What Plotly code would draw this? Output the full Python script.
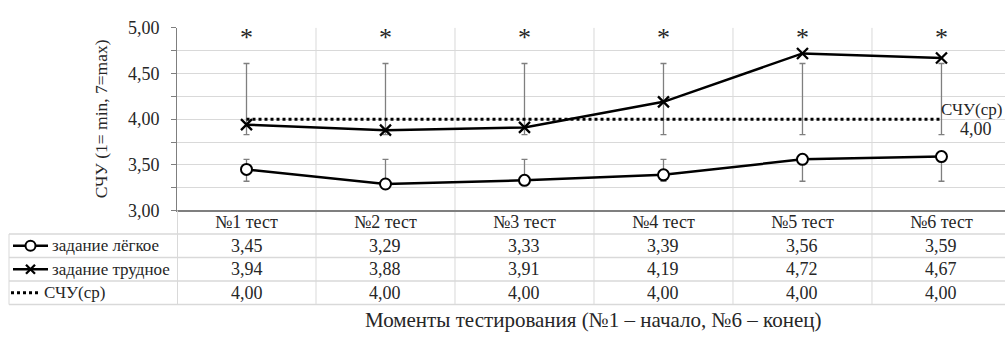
import plotly.graph_objects as go

# ---------------- data ----------------
categories = ["№1 тест", "№2 тест", "№3 тест", "№4 тест", "№5 тест", "№6 тест"]
easy = [3.45, 3.29, 3.33, 3.39, 3.56, 3.59]
hard = [3.94, 3.88, 3.91, 4.19, 4.72, 4.67]
scu_avg = [4.00, 4.00, 4.00, 4.00, 4.00, 4.00]
easy_low = [3.32, 3.32, 3.32, 3.32, 3.32, 3.32]
easy_high = [3.56, 3.56, 3.56, 3.56, 3.56, 3.56]
hard_low = [3.83, 3.83, 3.83, 3.83, 3.83, 3.83]
hard_high = [4.61, 4.61, 4.61, 4.61, 4.61, 4.61]
significance = ["*", "*", "*", "*", "*", "*"]
series_names = ["задание лёгкое", "задание трудное", "СЧУ(ср)"]
y_title = "СЧУ (1= min, 7=max)"
x_title = "Моменты тестирования (№1 – начало, №6 – конец)"

FONT = "Liberation Serif, Times New Roman, DejaVu Serif, serif"
TXT = "#262626"
GRID = "#d9d9d9"
AXIS = "#7f7f7f"
W, H = 1005, 340
PLOT_L, PLOT_T, PLOT_B = 177, 19, 213
ROWS = [213, 238, 263, 288, 313]

xi = list(range(len(categories)))


def fmt(v):
    return f"{v:.2f}".replace(".", ",")


fig = go.Figure()

# error ranges (drawn first, below the lines)
for lo, hi in ((easy_low, easy_high), (hard_low, hard_high)):
    fig.add_trace(go.Scatter(
        x=xi, y=[(a + b) / 2 for a, b in zip(lo, hi)], mode="markers",
        marker=dict(size=1, color="rgba(0,0,0,0)"),
        error_y=dict(type="data", symmetric=True,
                     array=[(b - a) / 2 for a, b in zip(lo, hi)],
                     color=AXIS, thickness=1.3, width=3),
        hoverinfo="skip", showlegend=False))

fig.add_trace(go.Scatter(
    x=xi, y=scu_avg, mode="lines", name=series_names[2],
    line=dict(color="black", width=3, dash="dot")))
fig.add_trace(go.Scatter(
    x=xi, y=hard, mode="lines+markers", name=series_names[1],
    line=dict(color="black", width=2.5),
    marker=dict(symbol="x-thin", size=11, line=dict(color="black", width=2.3))))
fig.add_trace(go.Scatter(
    x=xi, y=easy, mode="lines+markers", name=series_names[0],
    line=dict(color="black", width=2.5),
    marker=dict(symbol="circle", size=11, color="white", line=dict(color="black", width=2))))

# ---------------- legend keys inside the data table (pixel overlay axes) ----
row_mid = [(ROWS[i] + ROWS[i + 1]) / 2 for i in range(len(ROWS) - 1)]
key_y1 = row_mid[1]
key_y2 = row_mid[2]
key_y3 = row_mid[3]
fig.add_trace(go.Scatter(x=[13, 48], y=[key_y1, key_y1], mode="lines",
                         line=dict(color="black", width=2.5), xaxis="x2", yaxis="y2",
                         hoverinfo="skip", showlegend=False))
fig.add_trace(go.Scatter(x=[30.5], y=[key_y1], mode="markers",
                         marker=dict(symbol="circle", size=10, color="white",
                                     line=dict(color="black", width=2)),
                         xaxis="x2", yaxis="y2", hoverinfo="skip", showlegend=False))
fig.add_trace(go.Scatter(x=[13, 48], y=[key_y2, key_y2], mode="lines",
                         line=dict(color="black", width=2.5), xaxis="x2", yaxis="y2",
                         hoverinfo="skip", showlegend=False))
fig.add_trace(go.Scatter(x=[30.5], y=[key_y2], mode="markers",
                         marker=dict(symbol="x-thin", size=9,
                                     line=dict(color="black", width=2.3)),
                         xaxis="x2", yaxis="y2", hoverinfo="skip", showlegend=False))
fig.add_trace(go.Scatter(x=[11, 41], y=[key_y3, key_y3], mode="lines",
                         line=dict(color="black", width=3, dash="dot"),
                         xaxis="x2", yaxis="y2", hoverinfo="skip", showlegend=False))

shapes = []
# vertical separators between categories (plot + table)
for i in range(len(categories) - 1):
    shapes.append(dict(type="line", xref="x", yref="y2", x0=i + 0.5, x1=i + 0.5,
                       y0=PLOT_T, y1=ROWS[-1], line=dict(color=GRID, width=1), layer="below"))
# table left border at plot left, and left border of legend column
shapes.append(dict(type="line", xref="x2", yref="y2", x0=PLOT_L + 0.5, x1=PLOT_L + 0.5,
                   y0=PLOT_B, y1=ROWS[-1], line=dict(color=GRID, width=1), layer="below"))
shapes.append(dict(type="line", xref="x2", yref="y2", x0=9, x1=9,
                   y0=ROWS[1], y1=ROWS[-1], line=dict(color=GRID, width=1), layer="below"))
for r in ROWS[1:]:
    shapes.append(dict(type="line", xref="x2", yref="y2", x0=9, x1=W,
                       y0=r, y1=r, line=dict(color=GRID, width=1.5), layer="below"))

annotations = []
tfont = dict(family=FONT, size=18, color=TXT)
nfont = dict(family=FONT, size=17, color=TXT)
# header row
for i, c in enumerate(categories):
    annotations.append(dict(xref="x", yref="y2", x=i, y=row_mid[0], text=c,
                            showarrow=False, font=tfont))
# data rows
for r, vals in enumerate((easy, hard, scu_avg)):
    for i, v in enumerate(vals):
        annotations.append(dict(xref="x", yref="y2", x=i, y=row_mid[r + 1], text=fmt(v),
                                showarrow=False, font=tfont))
# row names
annotations.append(dict(xref="x2", yref="y2", x=50, y=key_y1, text=series_names[0],
                        xanchor="left", showarrow=False, font=nfont))
annotations.append(dict(xref="x2", yref="y2", x=50, y=key_y2, text=series_names[1],
                        xanchor="left", showarrow=False, font=nfont))
annotations.append(dict(xref="x2", yref="y2", x=42, y=key_y3, text=series_names[2],
                        xanchor="left", showarrow=False, font=nfont))
# significance marks
for i, s in enumerate(significance):
    annotations.append(dict(xref="x", yref="y", x=i, y=4.90, text=s, showarrow=False,
                            font=dict(family=FONT, size=26, color=TXT)))
# data label of the average line
annotations.append(dict(xref="x", yref="y", x=xi[-1], y=scu_avg[-1], text=series_names[2],
                        xanchor="left", xshift=-2, yshift=10, showarrow=False, font=nfont))
annotations.append(dict(xref="x", yref="y", x=xi[-1], y=scu_avg[-1], text=fmt(scu_avg[-1]),
                        xshift=35, yshift=-10, showarrow=False, font=tfont))
# axis titles
annotations.append(dict(xref="x2", yref="y2", x=101, y=116, text=y_title, textangle=-90,
                        showarrow=False, font=dict(family=FONT, size=17.5, color=TXT)))
annotations.append(dict(xref="x2", yref="y2", x=593, y=329, text=x_title,
                        showarrow=False, font=dict(family=FONT, size=21, color=TXT)))

fig.update_layout(
    width=W, height=H, margin=dict(l=0, r=0, t=0, b=0, pad=0),
    paper_bgcolor="white", plot_bgcolor="rgba(0,0,0,0)",
    showlegend=False, separators=", ",
    font=dict(family=FONT, size=18, color=TXT),
    xaxis=dict(domain=[PLOT_L / W, 1], range=[-0.5, len(categories) - 0.5 - 0.043],
               showgrid=False, zeroline=False, showticklabels=False, ticks="",
               showline=True, linecolor=AXIS, linewidth=1.5, fixedrange=True),
    yaxis=dict(domain=[1 - PLOT_B / H, 1 - PLOT_T / H], range=[3, 5],
               tick0=3, dtick=0.5, tickformat=".2f", ticks="outside", ticklen=5,
               tickcolor=AXIS, showline=True, linecolor=AXIS, linewidth=1,
               showgrid=True, gridcolor=GRID, gridwidth=1, zeroline=False,
               ticklabelstandoff=8, tickfont=tfont, fixedrange=True,
               minor=dict(tick0=3, dtick=0.25, ticks="outside", ticklen=5, tickcolor=AXIS,
                          showgrid=True, gridcolor=GRID, gridwidth=1)),
    xaxis2=dict(domain=[0, 1], range=[0, W], anchor="y2", visible=False, fixedrange=True),
    yaxis2=dict(domain=[0, 1], range=[H, 0], anchor="x2", visible=False, fixedrange=True),
    shapes=shapes, annotations=annotations,
)

fig.write_html("out.html")
